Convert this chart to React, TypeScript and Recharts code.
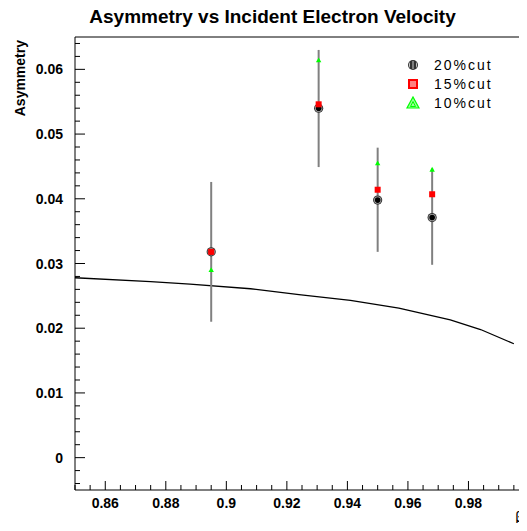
import React from "react";
import { ComposedChart, Scatter, Line, XAxis, YAxis, ErrorBar, ReferenceLine } from "recharts";

// measured points (incident beta), three cut levels
const betaPoints = [0.895, 0.9305, 0.95, 0.968];
const asym20 = [0.0318, 0.054, 0.0398, 0.0371];
const err20Low = [0.0108, 0.0091, 0.008, 0.0073];
const err20High = [0.0108, 0.009, 0.0081, 0.0076];
const asym15 = [0.0318, 0.0546, 0.0414, 0.0407];
const asym10 = [0.029, 0.0614, 0.0455, 0.0445];

// theory curve
const curveBeta = [0.85, 0.875, 0.888, 0.908, 0.924, 0.941, 0.957, 0.974, 0.984, 0.995];
const curveAsym = [0.0278, 0.0272, 0.0268, 0.0261, 0.0252, 0.0243, 0.0231, 0.0213, 0.0198, 0.0176];

const seriesNames = ["20%cut", "15%cut", "10%cut"];

const X_MIN = 0.85, X_MAX = 1.0;
const Y_MIN = -0.005, Y_MAX = 0.065;

const W = 540, H = 531;
const PLOT_L = 75, PLOT_B = 490;
const FONT = "'Liberation Sans', Arial, sans-serif";

const xTicks: number[] = [];
for (let i = 0; i <= 30; i++) xTicks.push(+(X_MIN + i * 0.005).toFixed(3));
const yTicks: number[] = [];
for (let i = -2; i <= 32; i++) yTicks.push(+(i * 0.002).toFixed(3));

const near = (v: number, step: number) => Math.abs(v / step - Math.round(v / step)) < 1e-6;
const fmt = (v: number) => String(+v.toFixed(3));

const pts20 = betaPoints.map((b, i) => ({ beta: b, asym: asym20[i], err: [err20Low[i], err20High[i]] }));
const pts15 = betaPoints.map((b, i) => ({ beta: b, asym: asym15[i] }));
const pts10 = betaPoints.map((b, i) => ({ beta: b, asym: asym10[i] }));
const curve = curveBeta.map((b, i) => ({ beta: b, asym: curveAsym[i] }));

function YTick({ y, payload }: any) {
  const v = payload.value;
  const major = near(v, 0.01);
  return (
    <g>
      <line x1={PLOT_L} x2={PLOT_L + (major ? 10 : 5)} y1={y} y2={y} stroke="#000" />
      {major && (
        <text x={63} y={y} dy={5} textAnchor="end" fontFamily={FONT} fontWeight="bold" fontSize={14} fill="#000">
          {fmt(v)}
        </text>
      )}
    </g>
  );
}

function XTick({ x, payload }: any) {
  const v = payload.value;
  const major = near(v, 0.02);
  return (
    <g>
      <line x1={x} x2={x} y1={PLOT_B} y2={PLOT_B - (major ? 9 : 5)} stroke="#000" />
      {major && (
        <text x={x} y={PLOT_B + 18} textAnchor="middle" fontFamily={FONT} fontWeight="bold" fontSize={14} fill="#000">
          {fmt(v)}
        </text>
      )}
    </g>
  );
}

const Dot20 = ({ cx, cy }: any) => (
  <g>
    <circle cx={cx} cy={cy} r={4.6} fill="#333" />
    <circle cx={cx} cy={cy} r={3.6} fill="#aaa" />
    <circle cx={cx} cy={cy} r={2.8} fill="#000" />
  </g>
);
const Square15 = ({ cx, cy }: any) => <rect x={cx - 3} y={cy - 3} width={6} height={6} fill="#ff0000" />;
const Tri10 = ({ cx, cy }: any) => (
  <polygon points={`${cx - 2.7},${cy + 2} ${cx + 2.7},${cy + 2} ${cx},${cy - 2.8}`} fill="#00ff00" />
);
const NoMark = () => <g />;

function LegendBox() {
  const row = { display: "flex", alignItems: "center", height: 19 } as const;
  return (
    <div style={{ position: "absolute", left: 405, top: 55, fontFamily: FONT, fontSize: 14, letterSpacing: 2 }}>
      <div style={row}>
        <svg width={29} height={14}>
          <circle cx={8} cy={7} r={5} fill="#333" />
          <circle cx={8} cy={7} r={4} fill="#ccc" />
          <rect x={5} y={3} width={6} height={8} fill="#333" />
          <line x1={8} x2={8} y1={3} y2={11} stroke="#ccc" />
        </svg>
        <span>{seriesNames[0]}</span>
      </div>
      <div style={row}>
        <svg width={29} height={14}>
          <rect x={3} y={2} width={10} height={10} fill="#ff0000" />
          <line x1={6} x2={6} y1={4} y2={10} stroke="#fff" />
          <line x1={8} x2={8} y1={4} y2={10} stroke="#fff" />
          <line x1={10} x2={10} y1={4} y2={10} stroke="#fff" />
        </svg>
        <span>{seriesNames[1]}</span>
      </div>
      <div style={row}>
        <svg width={29} height={14}>
          <polygon points="2,12 14,12 8,1" fill="#9f9" stroke="#00ff00" strokeWidth={1.2} />
          <polygon points="5.5,10.5 10.5,10.5 8,5.5" fill="none" stroke="#00ff00" strokeWidth={1} />
        </svg>
        <span>{seriesNames[2]}</span>
      </div>
    </div>
  );
}

export default function App() {
  return (
    <div style={{ margin: -8, width: 527, height: 531, overflow: "hidden", position: "relative", background: "#fff" }}>
      <div
        style={{
          position: "absolute", left: 0, width: 545, top: 6, textAlign: "center",
          fontFamily: FONT, fontWeight: "bold", fontSize: 19, color: "#000", lineHeight: "22px",
        }}
      >
        Asymmetry vs Incident Electron Velocity
      </div>
      <ComposedChart width={W} height={H} margin={{ top: 37, right: W - 529, left: 0, bottom: 0 }}>
        <XAxis
          type="number" dataKey="beta" domain={[X_MIN, X_MAX]} allowDataOverflow
          ticks={xTicks} interval={0} tick={<XTick />} tickLine={false}
          axisLine={{ stroke: "#000" }} height={H - PLOT_B}
        />
        <YAxis
          type="number" domain={[Y_MIN, Y_MAX]} allowDataOverflow
          ticks={yTicks} interval={0} tick={<YTick />} tickLine={false}
          axisLine={{ stroke: "#000" }} width={PLOT_L}
          label={{
            content: () => (
              <text
                x={25} y={40} transform="rotate(-90 25 40)" textAnchor="end"
                fontFamily={FONT} fontWeight="bold" fontSize={14} fill="#000"
              >
                Asymmetry
              </text>
            ),
          }}
        />
        <ReferenceLine y={Y_MAX} stroke="#000" />
        <Line data={curve} dataKey="asym" type="linear" stroke="#000" strokeWidth={1.3} dot={false} isAnimationActive={false} />
        <Scatter data={pts20} dataKey="asym" shape={NoMark} isAnimationActive={false}>
          <ErrorBar dataKey="err" direction="y" width={0} stroke="#808080" strokeWidth={2} />
        </Scatter>
        <Scatter name={seriesNames[0]} data={pts20} dataKey="asym" shape={Dot20} isAnimationActive={false} />
        <Scatter name={seriesNames[1]} data={pts15} dataKey="asym" shape={Square15} isAnimationActive={false} />
        <Scatter name={seriesNames[2]} data={pts10} dataKey="asym" shape={Tri10} isAnimationActive={false} />
      </ComposedChart>
      <svg width={527} height={531} style={{ position: "absolute", left: 0, top: 0, pointerEvents: "none" }}>
        <text x={524} y={522} textAnchor="end" fontFamily="'DejaVu Sans', sans-serif" fontSize={14} fill="#000">
          β
        </text>
      </svg>
      <LegendBox />
    </div>
  );
}
